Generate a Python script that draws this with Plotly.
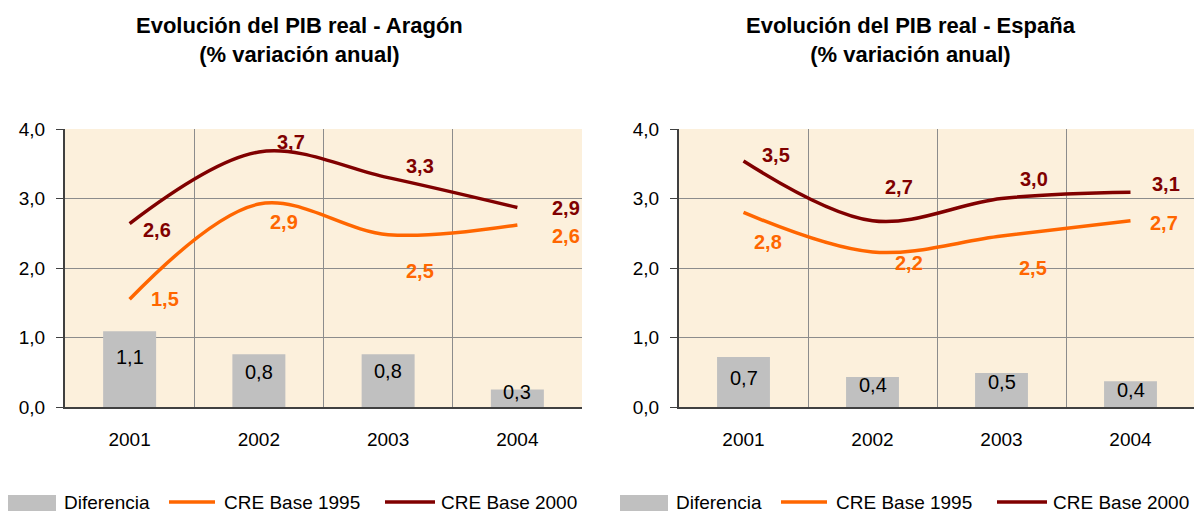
"""PIB real: Aragón vs España, CRE base 1995 / base 2000."""

import plotly.graph_objects as go
from plotly.subplots import make_subplots

years = ["2001", "2002", "2003", "2004"]

aragon_base_1995 = [1.55, 2.92, 2.48, 2.62]
aragon_base_2000 = [2.64, 3.67, 3.30, 2.87]
aragon_diferencia = [1.09, 0.76, 0.76, 0.25]
aragon_labels_1995 = ["1,5", "2,9", "2,5", "2,6"]
aragon_labels_2000 = ["2,6", "3,7", "3,3", "2,9"]
aragon_labels_dif = ["1,1", "0,8", "0,8", "0,3"]

espana_base_1995 = [2.80, 2.23, 2.46, 2.68]
espana_base_2000 = [3.54, 2.68, 3.00, 3.09]
espana_diferencia = [0.72, 0.43, 0.49, 0.37]
espana_labels_1995 = ["2,8", "2,2", "2,5", "2,7"]
espana_labels_2000 = ["3,5", "2,7", "3,0", "3,1"]
espana_labels_dif = ["0,7", "0,4", "0,5", "0,4"]

titles = [
    "Evolución del PIB real - Aragón<br>(% variación anual)",
    "Evolución del PIB real - España<br>(% variación anual)",
]

# Styles
ORANGE = "#ff6600"
DARK_RED = "#800000"
GRAY = "#c0c0c0"
BG = "#fcf0dc"
GRID = "#8c8c8c"
AXIS = "#404040"
FONT = "Liberation Sans, Arial, sans-serif"

# the page body has an 8px margin, so the figure is sized to fit inside it
OFF = 8
W, H = 1202 - OFF, 512 - OFF


def px_x(x):
    return (x - OFF) / W


def px_y(y):
    return 1 - (y - OFF) / H


# label offsets in px (dx, dy) for each point, per panel
shifts_1995 = [
    [(35, 0), (25, -18), (32, -36), (49, -11)],
    [(24, -30), (36, -11), (31, -32), (33, -2)],
]
shifts_2000 = [
    [(27, -6), (32, 10), (32, 12), (49, 0)],
    [(32, 6), (26, 34), (32, 20), (35, 8)],
]
bar_label_shift = [[-26, -18, -17, -2], [-21, -8, -9, -9]]

panels = [
    (aragon_base_1995, aragon_base_2000, aragon_diferencia,
     aragon_labels_1995, aragon_labels_2000, aragon_labels_dif),
    (espana_base_1995, espana_base_2000, espana_diferencia,
     espana_labels_1995, espana_labels_2000, espana_labels_dif),
]

x_domains = [[px_x(65), px_x(582)], [px_x(679), px_x(1195)]]
y_domain = [px_y(407), px_y(129)]

fig = make_subplots(rows=1, cols=2)
xs = list(range(len(years)))

for i, (b95, b00, dif, lab95, lab00, labdif) in enumerate(panels):
    col = i + 1
    fig.add_trace(
        go.Bar(x=xs, y=dif, width=0.41, marker=dict(color=GRAY, line=dict(width=0)),
               name="Diferencia", showlegend=False, hoverinfo="skip"),
        row=1, col=col,
    )
    fig.add_trace(
        go.Scatter(x=xs, y=b95, mode="lines", line=dict(color=ORANGE, width=3.5, shape="spline"),
                   name="CRE Base 1995", showlegend=False),
        row=1, col=col,
    )
    fig.add_trace(
        go.Scatter(x=xs, y=b00, mode="lines", line=dict(color=DARK_RED, width=3.5, shape="spline"),
                   name="CRE Base 2000", showlegend=False),
        row=1, col=col,
    )

    xref = "x" if i == 0 else "x2"
    yref = "y" if i == 0 else "y2"

    # value labels on the lines
    for values, labels, shifts, color in [
        (b95, lab95, shifts_1995[i], ORANGE),
        (b00, lab00, shifts_2000[i], DARK_RED),
    ]:
        for x, v, t, (dx, dy) in zip(xs, values, labels, shifts):
            fig.add_annotation(
                x=x, y=v, xref=xref, yref=yref, text=f"<b>{t}</b>",
                showarrow=False, xshift=dx, yshift=dy,
                font=dict(family=FONT, size=20, color=color),
            )

    # bar labels
    for x, v, t, dy in zip(xs, dif, labdif, bar_label_shift[i]):
        fig.add_annotation(
            x=x, y=v, xref=xref, yref=yref, text=t,
            showarrow=False, yshift=dy,
            font=dict(family=FONT, size=20, color="#000000"),
        )

    # title
    fig.add_annotation(
        x=px_x(299 if i == 0 else 911), y=px_y(40), xref="paper", yref="paper",
        xanchor="center", yanchor="middle",
        text=f"<b>{titles[i]}</b>", showarrow=False,
        font=dict(family=FONT, size=22, color="#000000"),
    )

    fig.update_xaxes(
        domain=x_domains[i], range=[-0.5, 3.5],
        tickmode="array", tickvals=xs, ticktext=years, ticks="",
        showgrid=False, showline=True, linecolor=AXIS, linewidth=2,
        ticklabelstandoff=14, automargin=False,
        minor=dict(tickmode="array", tickvals=[0.5, 1.5, 2.5, 3.5],
                   showgrid=True, gridcolor=GRID, gridwidth=1),
        tickfont=dict(family=FONT, size=19, color="#000000"),
        zeroline=False, fixedrange=True,
        row=1, col=col,
    )
    fig.update_yaxes(
        domain=y_domain, range=[0, 4], dtick=1, tickformat=".1f",
        showgrid=True, gridcolor=GRID, gridwidth=1,
        showline=True, linecolor=AXIS, linewidth=2,
        ticks="outside", ticklen=7, tickcolor=AXIS, automargin=False,
        ticklabelstandoff=7,
        tickfont=dict(family=FONT, size=19, color="#000000"),
        zeroline=False, fixedrange=True,
        row=1, col=col,
    )

# manual legends, drawn like the Excel ones
legend_y = px_y(502)
for offset in [0, 612]:
    fig.add_shape(type="rect", xref="paper", yref="paper",
                  x0=px_x(8 + offset), x1=px_x(56 + offset),
                  y0=px_y(511), y1=px_y(495),
                  fillcolor=GRAY, line=dict(width=0))
    for (x0, x1), color in [((169, 215), ORANGE), ((385, 435), DARK_RED)]:
        fig.add_shape(type="line", xref="paper", yref="paper",
                      x0=px_x(x0 + offset), x1=px_x(x1 + offset),
                      y0=legend_y, y1=legend_y, line=dict(color=color, width=3.5))
    for text, x in [("Diferencia", 62), ("CRE Base 1995", 222), ("CRE Base 2000", 439)]:
        fig.add_annotation(x=px_x(x + offset), y=legend_y, xref="paper", yref="paper",
                           text=text, showarrow=False, xanchor="left", yanchor="middle",
                           font=dict(family=FONT, size=19, color="#000000"))

fig.update_layout(
    width=W, height=H,
    margin=dict(l=0, r=0, t=0, b=0),
    paper_bgcolor="#ffffff",
    plot_bgcolor=BG,
    separators=",.",
    bargap=0.5,
    showlegend=False,
    font=dict(family=FONT, color="#000000"),
)

fig.write_html("out.html")
